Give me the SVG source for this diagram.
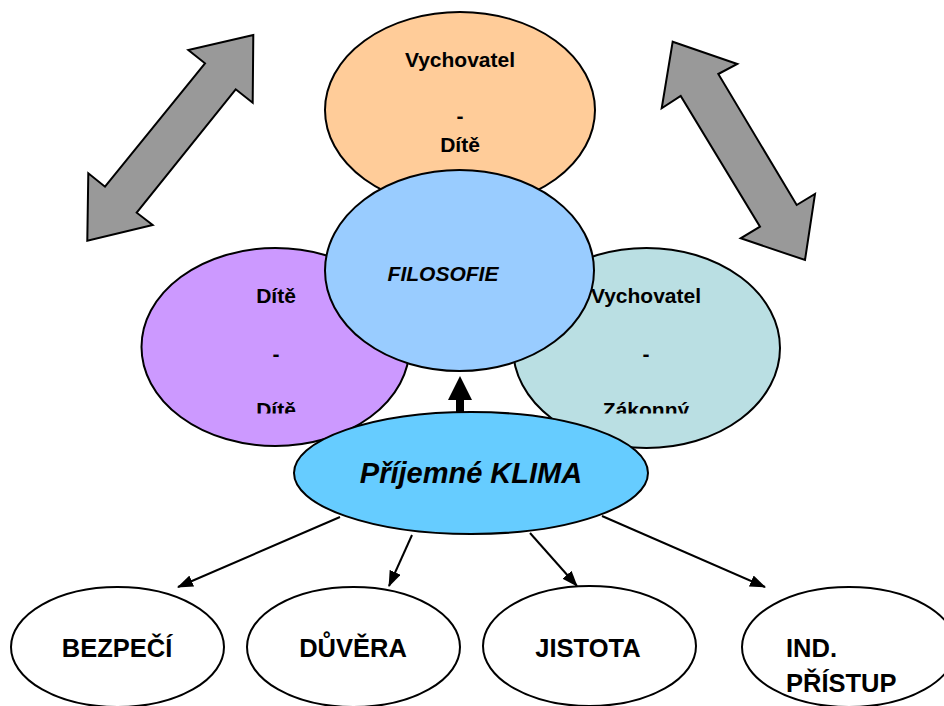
<svg xmlns="http://www.w3.org/2000/svg" width="944" height="706" viewBox="0 0 944 706">
<style>
.n{stroke:#000;stroke-width:2}
.t{font-family:"Liberation Sans",Arial,sans-serif;font-weight:bold;fill:#000}
.s{font-size:21px;text-anchor:middle}
.b{font-size:25.5px}
.c{text-anchor:middle}
.con{stroke:#000;stroke-width:2;fill:none}
.big{fill:#999;stroke:#000;stroke-width:2;stroke-linejoin:miter}
</style>
<defs>
<marker id="ah" viewBox="0 0 16 12" refX="15" refY="6" markerWidth="16" markerHeight="12" markerUnits="userSpaceOnUse" orient="auto">
<path d="M0,0 L16,6 L0,12 z" fill="#000"/>
</marker>
<clipPath id="clipL"><rect x="0" y="0" width="944" height="413.5"/></clipPath>
</defs>
<rect width="944" height="706" fill="#fff"/>

<g id="double-arrows">
<polygon class="big" points="253.3,35 188.3,50 205,63.3 105,186.7 88.3,173.3 87.3,240.7 152.7,225 136.7,212.7 235.7,89.3 252.7,102.7"/>
<polygon class="big" points="672.7,41.7 737.3,64 718.3,74 796.7,205 815,194 805,260 740.7,238.3 760,226.7 680.7,96 661.7,108.3"/>
</g>

<g id="node-vychovatel-dite">
<ellipse class="n" cx="460" cy="110" rx="135" ry="98" fill="#FFCC99"/>
<text class="t s" x="460" y="67">Vychovatel</text>
<text class="t s" x="460" y="123">-</text>
<text class="t s" x="460" y="152">Dítě</text>
</g>

<g id="node-dite-dite">
<ellipse class="n" cx="275.5" cy="347" rx="134" ry="99" fill="#CC99FF"/>
<text class="t s" x="276" y="303">Dítě</text>
<text class="t s" x="276" y="361">-</text>
<text class="t s" x="276" y="417" clip-path="url(#clipL)">Dítě</text>
</g>

<g id="node-vychovatel-zakonny">
<ellipse class="n" cx="646.5" cy="348" rx="133.5" ry="100" fill="#BADFE3"/>
<text class="t s" x="646" y="303">Vychovatel</text>
<text class="t s" x="646" y="361">-</text>
<text class="t s" x="646" y="417" clip-path="url(#clipL)">Zákonný</text>
</g>

<g id="node-filosofie">
<ellipse class="n" cx="459.5" cy="270.5" rx="134.5" ry="100.5" fill="#99CCFF"/>
<text class="t s" x="443" y="281" font-style="italic">FILOSOFIE</text>
</g>

<g id="connectors">
<polygon points="460,376 448,400 456,400 456,414 464,414 464,400 472,400" fill="#000"/>
<line class="con" x1="340" y1="517" x2="178" y2="587" marker-end="url(#ah)"/>
<line class="con" x1="412" y1="535" x2="389" y2="586" marker-end="url(#ah)"/>
<line class="con" x1="530" y1="533" x2="577" y2="586" marker-end="url(#ah)"/>
<line class="con" x1="602" y1="516" x2="765" y2="587" marker-end="url(#ah)"/>
</g>

<g id="node-klima">
<ellipse class="n" cx="471" cy="473" rx="177" ry="61" fill="#66CCFF"/>
<text class="t c" x="471" y="483" font-size="29" font-style="italic">Příjemné KLIMA</text>
</g>

<g id="node-bezpeci">
<ellipse class="n" cx="117.5" cy="647" rx="106.5" ry="60" fill="#fff"/>
<text class="t b c" x="117" y="657">BEZPEČÍ</text>
</g>
<g id="node-duvera">
<ellipse class="n" cx="353.5" cy="647" rx="106.5" ry="60" fill="#fff"/>
<text class="t b c" x="353" y="657">DŮVĚRA</text>
</g>
<g id="node-jistota">
<ellipse class="n" cx="589.5" cy="646" rx="106.5" ry="60" fill="#fff"/>
<text class="t b c" x="588" y="657">JISTOTA</text>
</g>
<g id="node-ind-pristup">
<ellipse class="n" cx="849" cy="647" rx="107" ry="60" fill="#fff"/>
<text class="t b" x="786" y="657">IND.</text>
<text class="t b" x="786" y="692">PŘÍSTUP</text>
</g>
</svg>
